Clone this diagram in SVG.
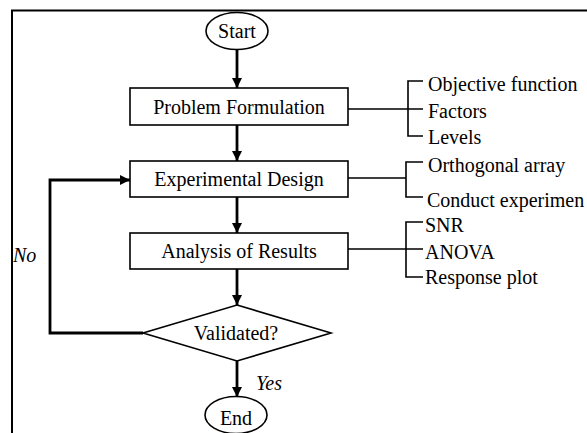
<svg xmlns="http://www.w3.org/2000/svg" width="587" height="433" viewBox="0 0 587 433">
<defs>
<style>
text{font-family:"Liberation Serif","Times New Roman",serif;font-size:20px;fill:#000}
.c{text-anchor:middle}
.i{font-style:italic}
.box{fill:#fff;stroke:#000;stroke-width:1.6}
.flow{fill:none;stroke:#000;stroke-width:2.8}
.br{fill:none;stroke:#000;stroke-width:1.6}
</style>
<marker id="ah" viewBox="0 0 10 10" refX="10" refY="5" markerWidth="10" markerHeight="10" markerUnits="userSpaceOnUse" orient="auto">
<path d="M0,0 L10,5 L0,10 Z" fill="#000"/>
</marker>
</defs>
<rect width="587" height="433" fill="#fff"/>
<path d="M12,433 V10.5 H587" fill="none" stroke="#000" stroke-width="2"/>

<g id="connectors">
<line class="flow" x1="237" y1="49" x2="237" y2="88" marker-end="url(#ah)"/>
<line class="flow" x1="237" y1="125" x2="237" y2="161" marker-end="url(#ah)"/>
<line class="flow" x1="237" y1="197" x2="237" y2="233" marker-end="url(#ah)"/>
<line class="flow" x1="237" y1="269" x2="237" y2="305" marker-end="url(#ah)"/>
<line class="flow" x1="237" y1="361" x2="237" y2="397" marker-end="url(#ah)"/>
<polyline class="flow" points="143,333 50,333 50,180 130,180" marker-end="url(#ah)"/>
<text class="i" x="256" y="390">Yes</text>
<text class="i" x="13" y="262">No</text>
<path class="br" d="M348,109 H423 M423,81 H408 V136 H423"/>
<path class="br" d="M348,178 H406 M423,162 H406 V197 H423"/>
<path class="br" d="M348,249 H423 M423,222 H406 V277 H423"/>
</g>

<g id="start">
<ellipse class="box" cx="237" cy="31" rx="31" ry="18.5"/>
<text class="c" x="237" y="38">Start</text>
</g>
<g id="problem">
<rect class="box" x="130" y="88" width="218" height="37"/>
<text class="c" x="239" y="114">Problem Formulation</text>
</g>
<g id="design">
<rect class="box" x="130" y="161" width="218" height="36"/>
<text class="c" x="239" y="186">Experimental Design</text>
</g>
<g id="analysis">
<rect class="box" x="130" y="233" width="218" height="36"/>
<text class="c" x="239" y="258">Analysis of Results</text>
</g>
<g id="validated">
<polygon class="box" points="237,305 331,333 237,361 143,333"/>
<text class="c" x="236" y="340">Validated?</text>
</g>
<g id="end">
<ellipse class="box" cx="236" cy="415" rx="31" ry="18.5"/>
<text class="c" x="236" y="425">End</text>
</g>

<g id="list1">
<text x="428" y="91">Objective function</text>
<text x="428" y="118">Factors</text>
<text x="428" y="144">Levels</text>
</g>
<g id="list2">
<text x="428" y="172">Orthogonal array</text>
<text x="427" y="207">Conduct experimen</text>
</g>
<g id="list3">
<text x="425" y="232">SNR</text>
<text x="425" y="259">ANOVA</text>
<text x="425" y="284">Response plot</text>
</g>
</svg>
